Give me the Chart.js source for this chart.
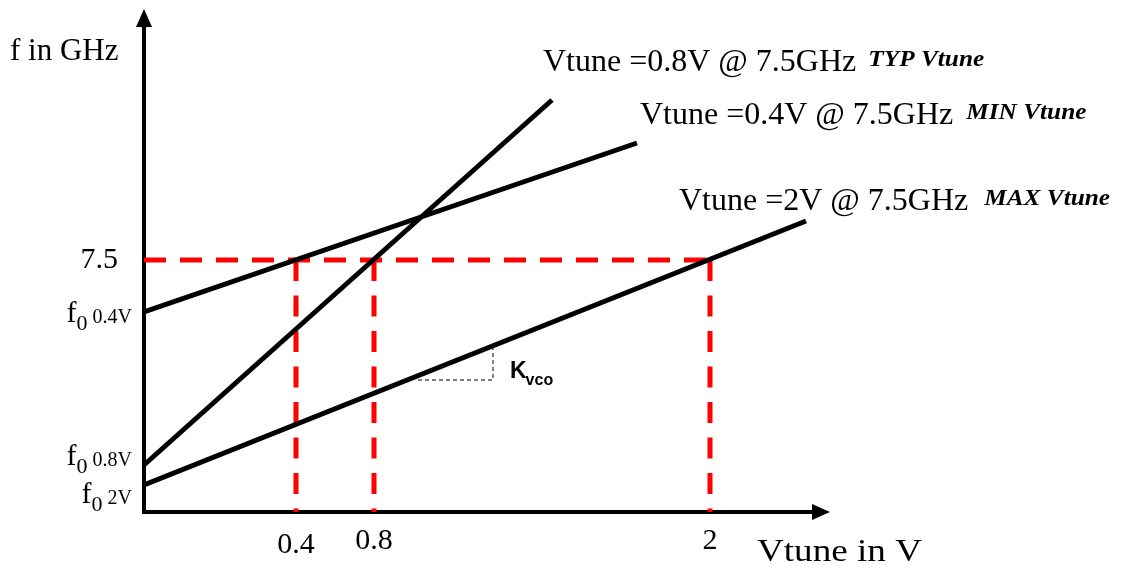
<!DOCTYPE html>
<html>
<head>
<meta charset="utf-8">
<script src="https://cdn.jsdelivr.net/npm/chart.js@4.4.1/dist/chart.umd.min.js"></script>
<style>
  html, body { margin: 0; padding: 0; background: #fff; }
  #wrap { position: relative; width: 1121px; height: 566px; }
</style>
</head>
<body>
<div id="wrap"><canvas id="c"></canvas></div>
<script>
// ---- Data (schematic diagram units) ----
const xTickLabels = ['0.4', '0.8', '2'];
const xTickPos = [1.52, 2.30, 5.66];
const yTickLabels = ['7.5', 'f0 0.4V', 'f0 0.8V', 'f0 2V'];
const yTickPos = [2.52, 2.00, 0.47, 0.27];

const seriesNames = ['Vtune =0.8V @ 7.5GHz', 'Vtune =0.4V @ 7.5GHz', 'Vtune =2V @ 7.5GHz'];
const seriesTags = ['TYP Vtune', 'MIN Vtune', 'MAX Vtune'];
const line08 = [{x: 0, y: 0.47}, {x: 4.08, y: 4.12}];
const line04 = [{x: 0, y: 2.00}, {x: 4.93, y: 3.69}];
const line2V = [{x: 0, y: 0.27}, {x: 6.62, y: 2.91}];

const targetF = 2.52;                 // 7.5 GHz level
const targetV = [1.52, 2.30, 5.66];   // 0.4 V, 0.8 V, 2 V
const kvcoTri = [{x: 2.74, y: 1.32}, {x: 3.49, y: 1.32}, {x: 3.49, y: 1.64}];

const xAxisTitle = 'Vtune in V';
const yAxisTitle = 'f in GHz';
const kvcoLabel = ['K', 'vco'];

const X_MAX = 6.86, Y_MAX = 5.03;

// ---- Build datasets ----
const black = '#000000', red = '#ff0000';
const datasets = [
  {data: line08, borderColor: black, borderWidth: 5},
  {data: line04, borderColor: black, borderWidth: 5},
  {data: line2V, borderColor: black, borderWidth: 5},
  {data: kvcoTri, borderColor: black, borderWidth: 1, borderDash: [4, 3]},
  {data: [{x: 0, y: targetF}, {x: targetV[2], y: targetF}], borderColor: red, borderWidth: 5, borderDash: [22, 14]},
];
targetV.forEach(v => datasets.push({data: [{x: v, y: targetF}, {x: v, y: 0}], borderColor: red, borderWidth: 5, borderDash: [21, 14.5]}));
datasets.forEach(d => { d.showLine = true; d.pointRadius = 0; d.borderCapStyle = 'butt'; d.fill = false; d.tension = 0; });

function txt(ctx, s, x, y, font, align, sx) {
  ctx.save();
  ctx.font = font;
  ctx.fillStyle = '#000';
  ctx.textBaseline = 'alphabetic';
  const w = ctx.measureText(s).width * (sx || 1);
  let x0 = x;
  if (align === 'right') x0 = x - w;
  else if (align === 'center') x0 = x - w / 2;
  ctx.translate(x0, y);
  ctx.scale(sx || 1, 1);
  ctx.fillText(s, 0, 0);
  ctx.restore();
  return w;
}

const SERIF = '"Liberation Serif", "Times New Roman", serif';
const SANS = '"Liberation Sans", Arial, sans-serif';

const axesPlugin = {
  id: 'axesPlugin',
  beforeDatasetsDraw(chart) {
    const ctx = chart.ctx, xs = chart.scales.x, ys = chart.scales.y;
    const x0 = xs.getPixelForValue(0), y0 = ys.getPixelForValue(0);
    const yTop = ys.getPixelForValue(Y_MAX), xEnd = xs.getPixelForValue(X_MAX);
    ctx.save();
    ctx.strokeStyle = '#000';
    ctx.fillStyle = '#000';
    ctx.lineWidth = 4;
    ctx.beginPath();
    ctx.moveTo(x0, y0 + 2); ctx.lineTo(x0, yTop + 14);
    ctx.moveTo(x0 - 2, y0); ctx.lineTo(xEnd - 14, y0);
    ctx.stroke();
    ctx.beginPath();
    ctx.moveTo(x0, yTop); ctx.lineTo(x0 - 8, yTop + 18); ctx.lineTo(x0 + 8, yTop + 18); ctx.closePath();
    ctx.fill();
    ctx.beginPath();
    ctx.moveTo(xEnd, y0); ctx.lineTo(xEnd - 18, y0 - 8); ctx.lineTo(xEnd - 18, y0 + 8); ctx.closePath();
    ctx.fill();
    ctx.restore();
  },
  afterDatasetsDraw(chart) {
    const ctx = chart.ctx, xs = chart.scales.x, ys = chart.scales.y;
    const x0 = xs.getPixelForValue(0), y0 = ys.getPixelForValue(0);
    // x tick labels
    const xdy = [41, 37, 37];
    xTickLabels.forEach((l, i) => txt(ctx, l, xs.getPixelForValue(xTickPos[i]), y0 + xdy[i], '30px ' + SERIF, 'center'));
    // y tick labels
    const ydy = [8, 10, 0, 18];
    yTickLabels.forEach((l, i) => {
      const py = ys.getPixelForValue(yTickPos[i]) + ydy[i];
      if (l.startsWith('f0 ')) {
        const rest = l.slice(3);
        ctx.save(); ctx.font = '20px ' + SERIF; const wr = ctx.measureText(rest).width;
        ctx.font = '22px ' + SERIF; const w0 = ctx.measureText('0').width;
        ctx.font = '30px ' + SERIF; const wf = ctx.measureText('f').width; ctx.restore();
        const right = x0 - 12;
        const xr = right - wr;
        txt(ctx, rest, xr, py + 1, '20px ' + SERIF, 'left');
        const x0s = xr - 5 - w0;
        txt(ctx, '0', x0s, py + 8, '22px ' + SERIF, 'left');
        txt(ctx, 'f', x0s - wf, py, '30px ' + SERIF, 'left');
      } else {
        txt(ctx, l, x0 - 26, py, '30px ' + SERIF, 'right');
      }
    });
    // axis titles
    txt(ctx, yAxisTitle, x0 - 134, 60, '31px ' + SERIF, 'left');
    txt(ctx, xAxisTitle, xs.getPixelForValue(X_MAX) - 73, y0 + 49, '32px ' + SERIF, 'left', 1.16);
    // series labels near line ends
    const ends = [line08[1], line04[1], line2V[1]];
    const lab = [[-9, -29], [3, -19], [-127, -11]];
    const gaps = [12, 13, 16];
    seriesNames.forEach((s, i) => {
      const px = xs.getPixelForValue(ends[i].x) + lab[i][0];
      const py = ys.getPixelForValue(ends[i].y) + lab[i][1];
      const w = txt(ctx, s, px, py, '32px ' + SERIF, 'left');
      txt(ctx, seriesTags[i], px + w + gaps[i], py - 5, 'bold italic 23px ' + SERIF, 'left', 1.1);
    });
    // Kvco label
    const kx = xs.getPixelForValue(kvcoTri[2].x) + 17, ky = ys.getPixelForValue(kvcoTri[1].y) - 2;
    const wk = txt(ctx, kvcoLabel[0], kx, ky, 'bold 23px ' + SANS, 'left');
    txt(ctx, kvcoLabel[1], kx + wk - 1, ky + 7, 'bold 16px ' + SANS, 'left');
  }
};

new Chart(document.getElementById('c'), {
  type: 'scatter',
  data: {datasets},
  options: {
    responsive: true,
    maintainAspectRatio: false,
    animation: false,
    layout: {padding: {left: 144, top: 9, right: 291, bottom: 54}},
    plugins: {legend: {display: false}, tooltip: {enabled: false}},
    events: [],
    scales: {
      x: {type: 'linear', min: 0, max: X_MAX, display: false},
      y: {type: 'linear', min: 0, max: Y_MAX, display: false}
    },
    elements: {line: {tension: 0}}
  },
  plugins: [axesPlugin]
});
</script>
</body>
</html>
